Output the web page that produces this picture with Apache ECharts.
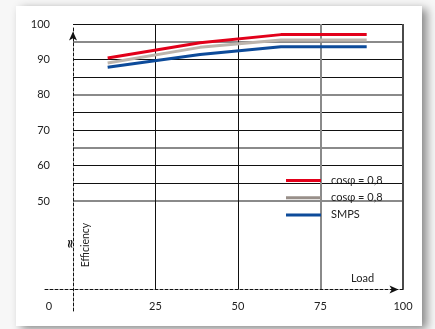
<!DOCTYPE html>
<html><head><meta charset="utf-8">
<script src="https://cdn.jsdelivr.net/npm/echarts@6/dist/echarts.min.js"></script>
<style>
html,body{margin:0;padding:0;background:#f7f7f7;width:435px;height:329px;overflow:hidden}
#card{position:absolute;left:16px;top:6px;width:406px;height:320px;background:#fff;box-shadow:5px 3px 9px rgba(0,0,0,0.45)}
#chart{position:absolute;left:0;top:0;width:435px;height:329px}
</style></head><body><div id="card"></div><div id="chart"></div>
<script>
// ---- data ----
const loadX = [10.5, 38.5, 63, 89];
const redEff = [90.4, 94.7, 97.0, 97.0];
const grayEff = [89.0, 93.4, 95.5, 95.5];
const blueEff = [87.8, 91.4, 93.6, 93.6];
const seriesNames = ['ups1', 'ups2', 'smps'];
const legendLabels = ['cosφ = 0,8', 'cosφ = 0,8', 'SMPS'];
const xTickLabels = [0, 25, 50, 75, 100];
const yTickLabels = [50, 60, 70, 80, 90, 100];
const xTitle = 'Load';
const yTitle = 'Efficiency';
const breakMark = '≈';

// ---- styling ----
const FONT = 'Lato, "Open Sans", sans-serif';
const TXT = '#222';
const lineColors = ['#e2001a', '#bdb5ad', '#0d4b9a'];
const legendIconColors = ['#e2001a', '#988f89', '#0d4b9a'];

const yTicks = [];
for (let v = 25; v <= 100; v += 5) yTicks.push(v);
const yBlack = yTicks.map(v => (v < 50 || (v - 50) % 15 === 0) ? 'transparent' : '#111');
const yGray = yTicks.map(v => (v >= 50 && (v - 50) % 15 === 0) ? '#8a8a8a' : 'transparent');

const chart = echarts.init(document.getElementById('chart'), null, {renderer: 'canvas'});
const pts = arr => loadX.map((x, i) => [x, arr[i]]);
const effs = [redEff, grayEff, blueEff];

const option = {
  animation: false,
  backgroundColor: 'transparent',
  textStyle: {fontFamily: FONT},
  grid: [
    {left: 73, right: 32, top: 24, bottom: 39.5},
    {left: 45, right: 32, top: 27, bottom: 18}
  ],
  xAxis: [
    {gridIndex: 0, type: 'value', min: 0, max: 100, interval: 25,
     axisLine: {show: false}, axisTick: {show: false},
     axisLabel: {margin: 11, fontSize: 11, color: TXT, fontFamily: FONT,
       formatter: v => xTickLabels.includes(v) ? (v === 0 ? '{z|0}' : String(v)) : '',
       rich: {z: {padding: [0, 48, 0, 0], fontSize: 11, color: TXT, fontFamily: FONT}}},
     splitLine: {show: true, lineStyle: {width: 1, color: ['transparent', '#111', '#111', 'transparent', 'transparent']}}},
    {gridIndex: 0, type: 'value', min: 0, max: 100, interval: 25, position: 'bottom',
     axisLine: {show: false}, axisTick: {show: false}, axisLabel: {show: false},
     splitLine: {show: true, lineStyle: {width: 2, color: ['transparent', 'transparent', 'transparent', '#8a8a8a', '#4a4a4a']}}},
    {gridIndex: 1, type: 'value', min: -28, max: 330,
     axisLine: {show: true, onZero: true, symbol: ['none', 'arrow'], symbolSize: [6, 9], symbolOffset: [0, -4.5],
       lineStyle: {color: '#111', width: 1, type: [3, 2]}},
     axisTick: {show: false}, axisLabel: {show: false}, splitLine: {show: false}}
  ],
  yAxis: [
    {gridIndex: 0, type: 'value', min: 25, max: 100, interval: 5,
     axisLine: {show: false}, axisTick: {show: false},
     axisLabel: {margin: 23, fontSize: 11, color: TXT, fontFamily: FONT, padding: [0, 0, 6, 0],
       formatter: v => yTickLabels.includes(v) ? String(v) : ''},
     splitLine: {show: true, lineStyle: {width: 1, color: yBlack}}},
    {gridIndex: 0, type: 'value', min: 25, max: 100, interval: 5,
     axisLine: {show: false}, axisTick: {show: false}, axisLabel: {show: false},
     splitLine: {show: true, lineStyle: {width: 2, color: yGray}}},
    {gridIndex: 1, type: 'value', min: -43, max: 525,
     axisLine: {show: true, onZero: true, symbol: ['none', 'arrow'], symbolSize: [6, 9], symbolOffset: [0, -4.5],
       lineStyle: {color: '#111', width: 1, type: [3, 2]}},
     axisTick: {show: false}, axisLabel: {show: false}, splitLine: {show: false}}
  ],
  legend: {
    orient: 'vertical', left: 281, top: 168.5, itemWidth: 35, itemHeight: 3, itemGap: 3.2,
    icon: 'rect',
    data: seriesNames.map((n, i) => ({name: n, itemStyle: {color: legendIconColors[i]}})),
    formatter: n => legendLabels[seriesNames.indexOf(n)],
    textStyle: {fontSize: 11, lineHeight: 14, color: TXT, fontFamily: FONT, padding: [0, 0, 0, 5]}
  },
  series: seriesNames.map((n, i) => ({
    name: n, type: 'line', xAxisIndex: 0, yAxisIndex: 0,
    data: pts(effs[i]), symbol: 'none', showSymbol: false,
    lineStyle: {width: 3, color: lineColors[i]}, itemStyle: {color: lineColors[i]},
    z: 5
  })),
  graphic: [
    {type: 'text', x: 86, y: 245, rotation: Math.PI / 2,
     style: {text: yTitle, fontSize: 10.5, fontFamily: FONT, fill: TXT, align: 'center', verticalAlign: 'middle'}},
    {type: 'text', x: 71, y: 244, rotation: Math.PI / 2,
     style: {text: breakMark, fontSize: 12, fontWeight: 'bold', fontFamily: '"DejaVu Sans", sans-serif', fill: '#111', align: 'center', verticalAlign: 'middle'}},
    {type: 'text', x: 362.5, y: 278.5,
     style: {text: xTitle, fontSize: 11, fontFamily: FONT, fill: TXT, align: 'center', verticalAlign: 'middle'}}
  ]
};
chart.setOption(option);
</script></body></html>
